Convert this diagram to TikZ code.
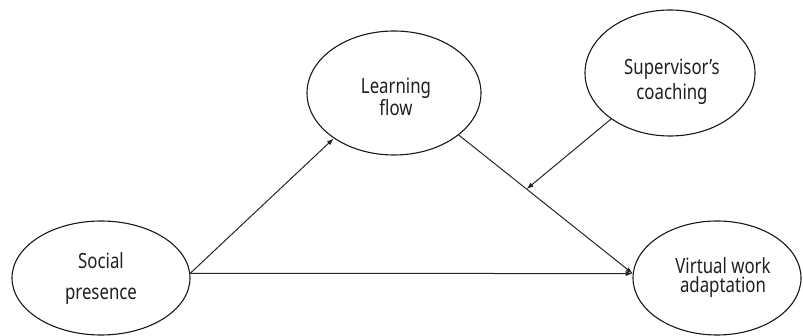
\documentclass[tikz,border=0pt]{standalone}
\usepackage{fontspec}
\newfontfamily\diagfont[FakeStretch=0.8]{Noto Sans}
\usetikzlibrary{arrows.meta,shapes.geometric}
\begin{document}
\begin{tikzpicture}[x=1pt,y=-1pt,
  oval/.style={draw=black!90, ellipse, line width=1.1pt, inner sep=0pt},
  lbl/.style={align=center, inner sep=0pt, text=black!88},
  conn/.style={draw=black!85, line width=1pt, -{Latex[length=7pt,width=5pt]}}]
\useasboundingbox (0,0) rectangle (803,336);
% ellipses
\node[oval, minimum width=178pt, minimum height=114pt] (sp) at (101,278) {};
\node[oval, minimum width=174pt, minimum height=124pt] (lf) at (394,93) {};
\node[oval, minimum width=170pt, minimum height=126pt] (sc) at (670,73) {};
\node[oval, minimum width=168pt, minimum height=114pt] (vwa) at (717,278) {};
% texts
\node[lbl, font=\diagfont\fontsize{21}{31}\selectfont] (sptext) at (101,279) {Social\\presence};
\node[lbl, font=\diagfont\fontsize{21}{20}\selectfont] (lftext) at (396,96.5) {Learning\\flow};
\node[lbl, font=\diagfont\fontsize{21}{25}\selectfont] (sctext) at (672,82) {Supervisor’s\\coaching};
\node[lbl, font=\diagfont\fontsize{21}{19}\selectfont] (vwatext) at (723,278) {Virtual work\\adaptation};
% connectors
\draw[conn] (sp.3) -- (lf.217);
\draw[conn] (sp.3) -- (vwa.177);
\draw[conn] (lf.327) -- coordinate[pos=0.39] (mid) (vwa.177);
\draw[conn] (sc.218) -- (mid);
\end{tikzpicture}
\end{document}
